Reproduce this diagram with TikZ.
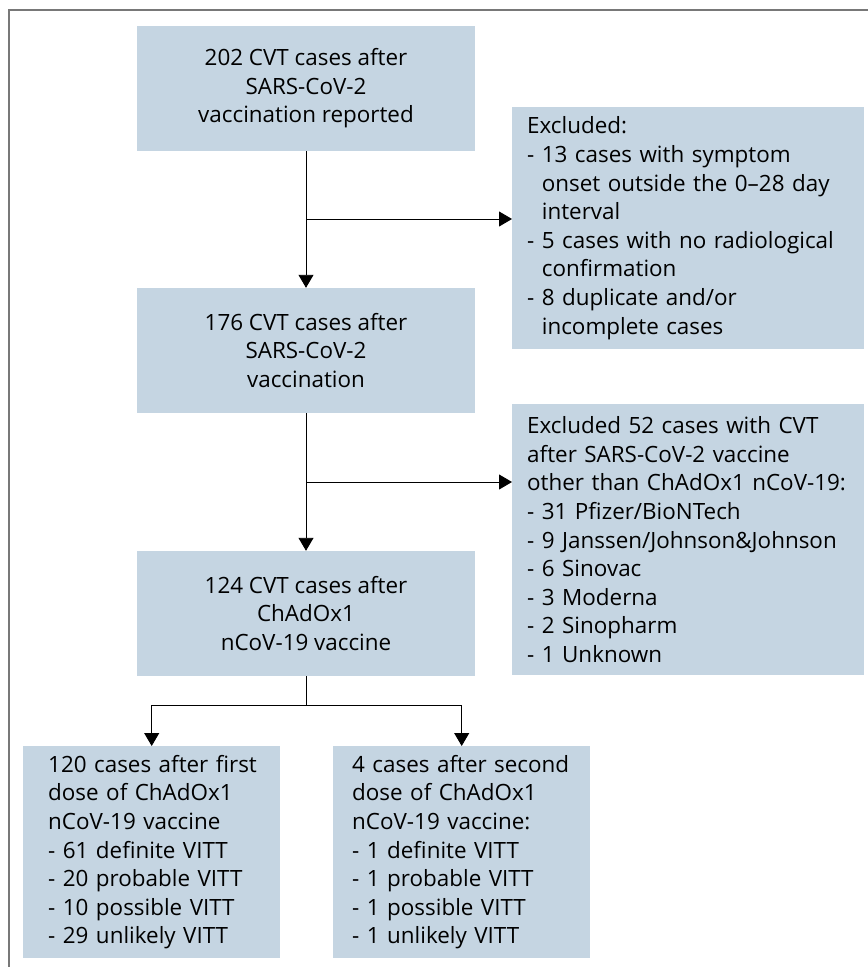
\documentclass[tikz,border=0pt]{standalone}
\usepackage{fontspec}
\setmainfont{Open Sans}
\usetikzlibrary{arrows.meta,calc}
\definecolor{boxblue}{RGB}{197,213,226}
\definecolor{framegray}{RGB}{120,120,120}
\newcommand{\myline}[1]{\mbox{#1}}
\newcommand{\hang}{\phantom{- }}
\begin{document}
\begin{tikzpicture}[x=1bp,y=-1bp,
  every node/.style={font=\fontsize{22.5}{28.7}\selectfont},
  cbox/.style={fill=boxblue, draw=none, align=center, minimum width=338bp, minimum height=125bp, inner sep=0pt},
  lbox/.style={fill=boxblue, draw=none, align=left, anchor=north west, inner ysep=0pt},
  conn/.style={draw=black, line width=0.9bp},
  arr/.style={conn, -{Triangle[width=15bp,length=13bp]}}
]
\useasboundingbox (0,0) rectangle (868,967);
\fill[white] (0,0) rectangle (868,967);
% frame (top and left edges)
\draw[framegray, line width=2bp] (868,10) -- (9,10) -- (9,967);

% main column
\node[cbox] (b1) at (306,88.5) {202 CVT cases after\\SARS-CoV-2\\vaccination reported};
\node[cbox] (b2) at (306,350.5) {176 CVT cases after\\SARS-CoV-2\\vaccination};
\node[cbox] (b3) at (306,613.5) {124 CVT cases after\\ChAdOx1\\nCoV-19 vaccine};

% exclusion boxes
\node[lbox, inner xsep=15bp, text width=322bp, minimum height=242bp] (e1) at (512,107)
 {\myline{Excluded:}\\
  \myline{- 13 cases with symptom}\\
  \myline{\hang onset outside the 0–28 day}\\
  \myline{\hang interval}\\
  \myline{- 5 cases with no radiological}\\
  \myline{\hang confirmation}\\
  \myline{- 8 duplicate and/or}\\
  \myline{\hang incomplete cases}};
\node[lbox, inner xsep=15bp, text width=322bp, minimum height=271bp] (e2) at (512,404)
 {\myline{Excluded 52 cases with CVT}\\
  \myline{after SARS-CoV-2 vaccine}\\
  \myline{other than ChAdOx1 nCoV-19:}\\
  \myline{- 31 Pfizer/BioNTech}\\
  \myline{- 9 Janssen/Johnson\&Johnson}\\
  \myline{- 6 Sinovac}\\
  \myline{- 3 Moderna}\\
  \myline{- 2 Sinopharm}\\
  \myline{- 1 Unknown}};

% bottom boxes
\node[lbox, inner xsep=25bp, text width=207bp, minimum height=212bp] (b4) at (23,746)
 {\myline{120 cases after first}\\
  \myline{dose of ChAdOx1}\\
  \myline{nCoV-19 vaccine}\\
  \myline{- 61 definite VITT}\\
  \myline{- 20 probable VITT}\\
  \myline{- 10 possible VITT}\\
  \myline{- 29 unlikely VITT}};
\node[lbox, inner xsep=19bp, text width=219bp, minimum height=212bp] (b5) at (333,746)
 {\myline{4 cases after second}\\
  \myline{dose of ChAdOx1}\\
  \myline{nCoV-19 vaccine:}\\
  \myline{- 1 definite VITT}\\
  \myline{- 1 probable VITT}\\
  \myline{- 1 possible VITT}\\
  \myline{- 1 unlikely VITT}};

% junctions
\coordinate (j1) at (306,219);
\coordinate (j2) at (306,482);
\coordinate (j3) at (306,705);

% connectors
\draw[arr] (b1.south) -- (b2.north);
\draw[arr] (j1) -- (j1 -| e1.west);
\draw[arr] (b2.south) -- (b3.north);
\draw[arr] (j2) -- (j2 -| e2.west);
\draw[conn] (b3.south) -- (j3);
\draw[arr] (j3) -| (b4.north);
\draw[arr] (j3) -| (b5.north);
\end{tikzpicture}
\end{document}
